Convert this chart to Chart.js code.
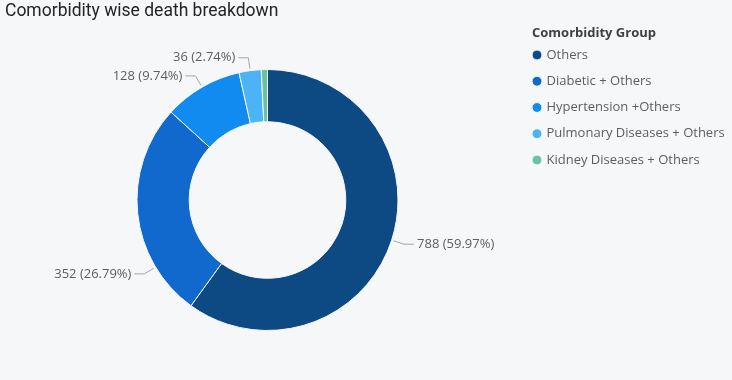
<!DOCTYPE html>
<html><head><meta charset="utf-8">
<script src="https://cdn.jsdelivr.net/npm/chart.js@4.4.1/dist/chart.umd.min.js"></script>
<style>
html,body{margin:0;padding:0;background:#F5F7F9;overflow:hidden;}
#wrap{width:732px;height:380px;position:relative;}
</style>
</head><body>
<div id="wrap"><canvas id="c" width="732" height="380"></canvas></div>
<script>
const categories = ['Others', 'Diabetic + Others', 'Hypertension +Others', 'Pulmonary Diseases + Others', 'Kidney Diseases + Others'];
const deaths = [788, 352, 128, 36, 10];
const sliceColors = ['#0D4A84', '#1169CE', '#128BF1', '#4DB3F7', '#6CC3A2'];
const chartTitle = 'Comorbidity wise death breakdown';
const legendTitle = 'Comorbidity Group';

const bgFill = {
  id: 'bgFill',
  beforeDraw(chart, args, opts) {
    const ctx = chart.ctx;
    ctx.save();
    ctx.fillStyle = opts.color;
    ctx.fillRect(0, 0, chart.width, chart.height);
    ctx.restore();
  }
};

const leaderLabels = {
  id: 'leaderLabels',
  afterDatasetsDraw(chart, args, opts) {
    const ctx = chart.ctx;
    const meta = chart.getDatasetMeta(0);
    const data = chart.data.datasets[0].data;
    const total = data.reduce((a, b) => a + b, 0);
    ctx.save();
    ctx.font = opts.font;
    ctx.textBaseline = 'middle';
    meta.data.forEach((arc, i) => {
      const pct = data[i] / total * 100;
      if (pct < opts.minPercent) return;
      const p = arc.getProps(['x', 'y', 'startAngle', 'endAngle', 'outerRadius'], true);
      const f = (opts.anchor && opts.anchor[i] != null) ? opts.anchor[i] : 0.5;
      const a = p.startAngle + (p.endAngle - p.startAngle) * f;
      const c = Math.cos(a), s = Math.sin(a);
      const x0 = p.x + c * (p.outerRadius + opts.startGap), y0 = p.y + s * (p.outerRadius + opts.startGap);
      const x1 = p.x + c * (p.outerRadius + opts.elbow), y1 = p.y + s * (p.outerRadius + opts.elbow);
      const dir = c >= 0 ? 1 : -1;
      const x2 = x1 + dir * opts.run;
      ctx.strokeStyle = opts.lineColor;
      ctx.lineWidth = 1;
      ctx.beginPath();
      ctx.moveTo(x0, y0);
      ctx.lineTo(x1, y1);
      ctx.lineTo(x2, y1);
      ctx.stroke();
      ctx.fillStyle = opts.color;
      ctx.textAlign = dir > 0 ? 'left' : 'right';
      ctx.fillText(data[i] + ' (' + pct.toFixed(2) + '%)', x2 + dir * opts.textGap, y1);
    });
    ctx.restore();
  }
};

const legendPlacer = {
  id: 'legendPlacer',
  afterLayout(chart, args, opts) {
    const lg = chart.legend;
    if (!lg) return;
    const pad = lg.options.labels.padding;
    const ctx = chart.ctx;
    ctx.save();
    ctx.font = opts.titleFont;
    const tw = ctx.measureText(lg.options.title.text).width;
    ctx.restore();
    lg.left = opts.itemX - pad;
    lg.width = 2 * (opts.titleX + tw / 2 - lg.left);
    lg.right = chart.width;
    lg.top = opts.top;
    lg.height = 300;
    lg.bottom = lg.top + lg.height;
  }
};

new Chart(document.getElementById('c'), {
  type: 'doughnut',
  data: {
    labels: categories,
    datasets: [{
      data: deaths,
      backgroundColor: sliceColors,
      borderColor: '#F5F7F9',
      borderWidth: 1,
      hoverOffset: 0
    }]
  },
  options: {
    responsive: false,
    devicePixelRatio: 1,
    animation: false,
    cutout: '60%',
    layout: { padding: { left: 5, right: 202, top: 0, bottom: 49 } },
    plugins: {
      bgFill: { color: '#F5F7F9' },
      title: {
        display: true,
        text: chartTitle,
        align: 'start',
        color: '#252423',
        font: { family: 'Roboto', size: 17.5, weight: 'normal', lineHeight: 1.2 },
        padding: { top: 1.4, bottom: 46.6 }
      },
      legend: {
        display: true,
        position: 'chartArea',
        align: 'start',
        title: {
          display: true,
          text: legendTitle,
          position: 'center',
          color: '#404040',
          font: { family: 'Open Sans', size: 13, weight: 'bold', lineHeight: 1 },
          padding: { top: 0, bottom: -4.5 }
        },
        labels: {
          usePointStyle: true,
          pointStyle: 'circle',
          boxWidth: 6,
          boxHeight: 7,
          padding: 13.25,
          color: '#605E5C',
          font: { family: 'Open Sans', size: 13 }
        }
      },
      legendPlacer: { itemX: 534, titleX: 532, top: 26.75, titleFont: 'bold 13px "Open Sans"' },
      leaderLabels: {
        font: '13px "Open Sans"',
        color: '#605E5C',
        lineColor: '#A6A6A6',
        minPercent: 1,
        startGap: 2,
        elbow: 13,
        run: 10,
        textGap: 3,
        anchor: [0.5, 0.24, 0.5, 0.5, 0.5]
      },
      tooltip: { enabled: false }
    }
  },
  plugins: [bgFill, leaderLabels, legendPlacer]
});
</script>
</body></html>
